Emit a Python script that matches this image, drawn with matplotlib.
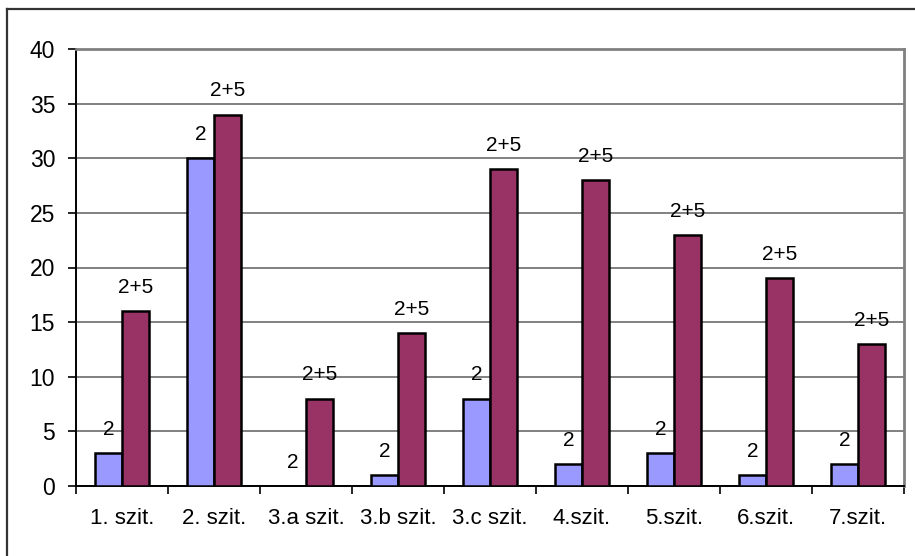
import matplotlib
matplotlib.use("Agg")
import matplotlib.pyplot as plt
import numpy as np
from matplotlib.lines import Line2D

plt.rcParams['font.family'] = ['Liberation Sans', 'DejaVu Sans']

categories = ["1. szit.", "2. szit.", "3.a szit.", "3.b szit.", "3.c szit.",
              "4.szit.", "5.szit.", "6.szit.", "7.szit."]
vals_2 = [3, 30, 0, 1, 8, 2, 3, 1, 2]
vals_25 = [16, 34, 8, 14, 29, 28, 23, 19, 13]
series_names = ["2", "2+5"]

fig = plt.figure(figsize=(9.15, 5.56), dpi=100)
ax = fig.add_axes([76 / 915, 70 / 556, 828 / 915, 437 / 556])

x = np.arange(len(categories))
w = 0.29
bars1 = ax.bar(x - w / 2, vals_2, w, color="#9999FF", edgecolor="black", linewidth=1.8, zorder=3)
bars2 = ax.bar(x + w / 2, vals_25, w, color="#993366", edgecolor="black", linewidth=1.8, zorder=3)

# series name printed above every bar
for bars, vals, name in [(bars1, vals_2, series_names[0]), (bars2, vals_25, series_names[1])]:
    for b, v in zip(bars, vals):
        ax.annotate(name, (b.get_x() + b.get_width() / 2, v), xytext=(0, 17),
                    textcoords="offset points", ha="center", va="center", fontsize=15)

ax.set_xlim(-0.5, len(categories) - 0.5)
ax.set_ylim(0, 40)
ax.set_yticks(np.arange(0, 41, 5))
ax.yaxis.grid(True, color="#808080", linewidth=1.4, zorder=0)

ax.set_xticks(x)
ax.set_xticklabels(categories)
ax.set_xticks(np.arange(-0.5, len(categories), 1), minor=True)
ax.tick_params(axis="x", which="major", length=0, pad=16, labelsize=16)
ax.tick_params(axis="x", which="minor", length=6, width=1.2, direction="out")
ax.tick_params(axis="y", length=6, width=1.2, pad=9, labelsize=16.5)

for side in ["top", "right"]:
    ax.spines[side].set_color("#808080")
    ax.spines[side].set_linewidth(2)
for side in ["left", "bottom"]:
    ax.spines[side].set_color("black")
    ax.spines[side].set_linewidth(1.4)

# chart frame, top and left edges
fig.add_artist(Line2D([7 / 915, 1.0], [1 - 9 / 556, 1 - 9 / 556], color="#333333", linewidth=1.6))
fig.add_artist(Line2D([7 / 915, 7 / 915], [0.0, 1 - 9 / 556], color="#333333", linewidth=1.6))

fig.savefig("out.png", dpi=100)
